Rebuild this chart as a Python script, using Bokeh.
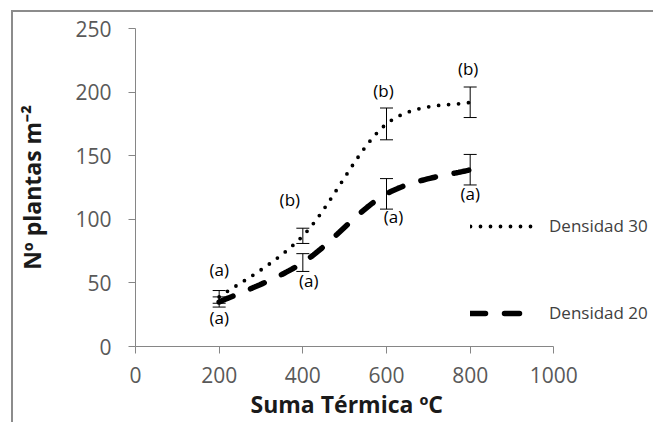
import numpy as np
from bokeh.plotting import figure
from bokeh.models import (ColumnDataSource, Range1d, FixedTicker, Whisker, TeeHead,
                          Legend, LegendItem, Title)
from bokeh.core.properties import value
from bokeh.embed import file_html
from bokeh.resources import INLINE

# Plant density (plants per m2) against accumulated thermal time
suma_termica = [200, 400, 600, 800]
densidad_30 = [39, 87, 175, 192]
densidad_30_err = [5, 6, 12.5, 12]
densidad_20 = [35, 66, 120, 139]
densidad_20_err = [4, 7, 12, 12]
letras_30 = ["(a)", "(b)", "(b)", "(b)"]
letras_20 = ["(a)", "(a)", "(a)", "(a)"]
x_ticks = [0, 200, 400, 600, 800, 1000]
y_ticks = [0, 50, 100, 150, 200, 250]

# pixel offsets of the significance letters from the error-bar tips
off_30_x = [0, -13, -3, -2]
off_30_y = [-21, -29, -18, -19]
off_20_x = [0, 6, 7, 0]
off_20_y = [10, 9, 7, 9]

FONT = "Open Sans"


def smooth_path(xs, ys, n=40):
    """Cubic Bezier (Catmull-Rom style) path through the points, like a smoothed line."""
    pts = np.column_stack([xs, ys]).astype(float)
    ext = np.vstack([pts[0], pts, pts[-1]])
    t = np.linspace(0, 1, n)[:, None]
    segs = []
    for i in range(len(pts) - 1):
        p0, p3 = ext[i + 1], ext[i + 2]
        c1 = p0 + (ext[i + 2] - ext[i]) / 6.0
        c2 = p3 - (ext[i + 3] - ext[i + 1]) / 6.0
        seg = (1 - t) ** 3 * p0 + 3 * (1 - t) ** 2 * t * c1 + 3 * (1 - t) * t ** 2 * c2 + t ** 3 * p3
        segs.append(seg if i == 0 else seg[1:])
    arr = np.vstack(segs)
    return arr[:, 0], arr[:, 1]


# the chart sits inside a grey frame whose left and top edges are visible
p = figure(width=642, height=412, output_backend="svg", toolbar_location=None,
           x_range=Range1d(0, 1243), y_range=Range1d(0, 250),
           min_border_left=118, min_border_right=0, min_border_top=16, min_border_bottom=78)
p.margin = (10, 0, 0, 11)
p.styles = {"border-left": "2px solid #8c8c8c", "border-top": "2px solid #8c8c8c"}
p.outline_line_color = None
p.xgrid.grid_line_color = None
p.ygrid.grid_line_color = None
p.background_fill_color = "white"
p.border_fill_color = "white"

# smoothed series lines
x30, y30 = smooth_path(suma_termica, densidad_30)
x20, y20 = smooth_path(suma_termica, densidad_20)
r30 = p.line(x30, y30, line_color="black", line_width=3.8, line_cap="round", line_dash="0 10")
r20 = p.line(x20, y20, line_color="black", line_width=5.5, line_cap="round", line_dash="15 19")

# error bars
for vals, errs in ((densidad_30, densidad_30_err), (densidad_20, densidad_20_err)):
    src = ColumnDataSource(dict(
        x=suma_termica,
        lower=[v - e for v, e in zip(vals, errs)],
        upper=[v + e for v, e in zip(vals, errs)],
    ))
    p.add_layout(Whisker(source=src, base="x", lower="lower", upper="upper",
                         line_color="black", line_width=1,
                         upper_head=TeeHead(size=13, line_color="black", line_width=1),
                         lower_head=TeeHead(size=13, line_color="black", line_width=1)))

# significance letters
lab30 = ColumnDataSource(dict(
    x=suma_termica, y=[v + e for v, e in zip(densidad_30, densidad_30_err)],
    t=letras_30, xo=off_30_x, yo=off_30_y))
lab20 = ColumnDataSource(dict(
    x=suma_termica, y=[v - e for v, e in zip(densidad_20, densidad_20_err)],
    t=letras_20, xo=off_20_x, yo=off_20_y))
for src in (lab30, lab20):
    p.text(x="x", y="y", text="t", x_offset="xo", y_offset="yo", source=src,
           text_font=value(FONT), text_font_size="17px", text_color="black",
           text_align="center", text_baseline="middle")

# axes
for ax in (p.xaxis[0], p.yaxis[0]):
    ax.axis_line_color = "#868686"
    ax.major_tick_line_color = "#868686"
    ax.major_tick_in = 0
    ax.major_tick_out = 7
    ax.minor_tick_line_color = None
    ax.major_label_text_font = FONT
    ax.major_label_text_font_size = "21px"
    ax.major_label_text_color = "#595959"
    ax.axis_label_text_font = FONT
    ax.axis_label_text_font_style = "bold"
    ax.axis_label_text_font_size = "23px"
    ax.axis_label_text_color = "#1a1a1a"

p.xaxis.ticker = FixedTicker(ticks=x_ticks)
p.yaxis.ticker = FixedTicker(ticks=y_ticks)
p.xaxis.bounds = (0, 1000)
p.xaxis.major_label_standoff = 13
p.yaxis.major_label_standoff = 17
p.yaxis.axis_label_standoff = 24
p.yaxis.axis_label = "Nº plantas m⁻²"

# x-axis title, centred under the 0-1000 axis rather than the wider frame
p.add_layout(Title(text="Suma Térmica ºC", align="left", offset=115, standoff=0,
                   text_font=FONT, text_font_size="23px", text_font_style="bold",
                   text_color="#1a1a1a"), "below")

legend = Legend(items=[LegendItem(label="Densidad 30", renderers=[r30]),
                       LegendItem(label="Densidad 20", renderers=[r20])],
                location=(335, 22), orientation="vertical",
                glyph_width=65, glyph_height=20, label_height=20,
                spacing=64, padding=0, margin=0, label_standoff=14,
                border_line_color=None, background_fill_alpha=0,
                label_text_font=FONT, label_text_font_size="17px",
                label_text_color="#404040")
p.add_layout(legend)

open("out.html", "w").write(file_html(p, INLINE))
